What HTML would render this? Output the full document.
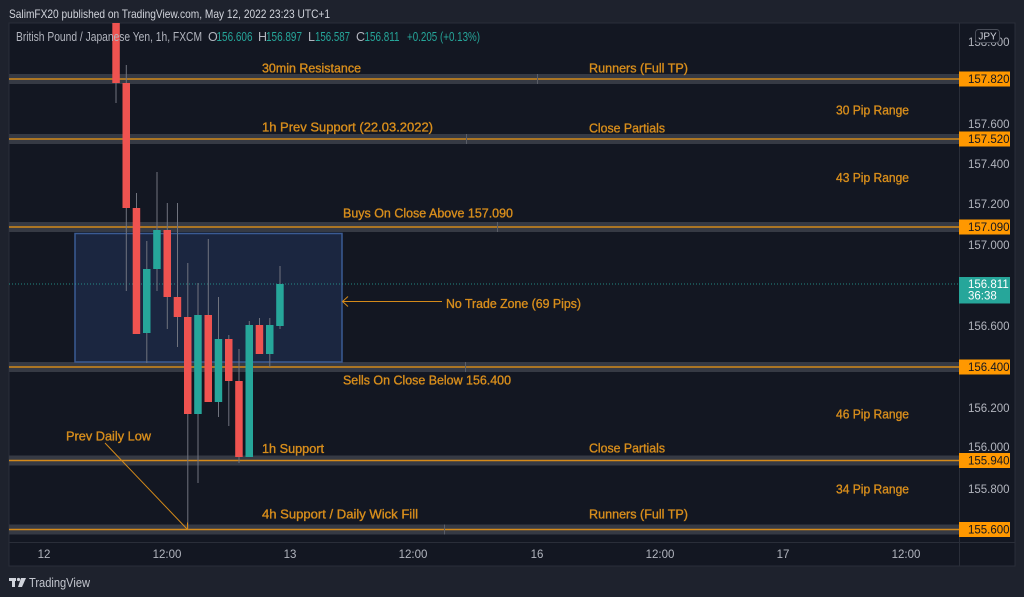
<!DOCTYPE html>
<html><head><meta charset="utf-8"><style>
html,body{margin:0;padding:0;background:#1e222d;width:1024px;height:597px;overflow:hidden}
svg{display:block}
text{font-family:"Liberation Sans",sans-serif}
</style></head><body>
<svg width="1024" height="597" viewBox="0 0 1024 597" xmlns="http://www.w3.org/2000/svg">
<rect x="0" y="0" width="1024" height="597" fill="#1e222d"/>
<!-- header -->
<text x="9" y="18" font-size="12" fill="#d1d4dc" textLength="321" lengthAdjust="spacingAndGlyphs">SalimFX20 published on TradingView.com, May 12, 2022 23:23 UTC+1</text>
<!-- chart panel -->
<rect x="9" y="23" width="1006" height="543" fill="#131722" stroke="#2a2e39" stroke-width="1"/>
<line x1="959.5" y1="23" x2="959.5" y2="566" stroke="#2a2e39"/>
<line x1="9" y1="542.5" x2="1015" y2="542.5" stroke="#2a2e39"/>

<!-- level bands -->
<g>
<rect x="9" y="74" width="950" height="10" fill="#363a44"/><line x1="9" y1="79" x2="959" y2="79" stroke="#d48a1a" stroke-width="1.5"/>
<rect x="9" y="134" width="950" height="10" fill="#363a44"/><line x1="9" y1="139" x2="959" y2="139" stroke="#d48a1a" stroke-width="1.5"/>
<rect x="9" y="222" width="950" height="10" fill="#363a44"/><line x1="9" y1="227" x2="959" y2="227" stroke="#d48a1a" stroke-width="1.5"/>
<rect x="9" y="362" width="950" height="10" fill="#363a44"/><line x1="9" y1="367" x2="959" y2="367" stroke="#d48a1a" stroke-width="1.5"/>
<rect x="9" y="455.5" width="950" height="10" fill="#363a44"/><line x1="9" y1="460.5" x2="959" y2="460.5" stroke="#d48a1a" stroke-width="1.5"/>
<rect x="9" y="524.5" width="950" height="10" fill="#363a44"/><line x1="9" y1="529.5" x2="959" y2="529.5" stroke="#d48a1a" stroke-width="1.5"/>
<g stroke="#5a5d66" stroke-width="1">
<line x1="537.5" y1="74" x2="537.5" y2="84"/>
<line x1="466.5" y1="134" x2="466.5" y2="144"/>
<line x1="497.5" y1="222" x2="497.5" y2="232"/>
<line x1="465.5" y1="362" x2="465.5" y2="372"/>
<line x1="444.5" y1="524.5" x2="444.5" y2="534.5"/>
</g>
</g>

<!-- no trade zone box -->
<rect x="75" y="233.5" width="267" height="128.5" fill="#1b2640" stroke="#3b5b94" stroke-width="1.5"/>

<!-- current price dotted line -->
<line x1="9" y1="284" x2="959" y2="284" stroke="#26a69a" stroke-width="1" stroke-dasharray="1,2" opacity="0.8"/>

<!-- candles -->
<g stroke="#70737e" stroke-width="1">
<line x1="116" y1="23" x2="116" y2="103"/>
<line x1="126.3" y1="65" x2="126.3" y2="291"/>
<line x1="136.5" y1="193" x2="136.5" y2="334"/>
<line x1="146.8" y1="241" x2="146.8" y2="363"/>
<line x1="157" y1="172" x2="157" y2="291"/>
<line x1="167.3" y1="203" x2="167.3" y2="329"/>
<line x1="177.5" y1="203" x2="177.5" y2="347"/>
<line x1="187.8" y1="263" x2="187.8" y2="530"/>
<line x1="198" y1="283" x2="198" y2="483"/>
<line x1="208.3" y1="239" x2="208.3" y2="402"/>
<line x1="218.5" y1="297" x2="218.5" y2="417"/>
<line x1="228.8" y1="335" x2="228.8" y2="426"/>
<line x1="239" y1="349" x2="239" y2="463"/>
<line x1="249.3" y1="321" x2="249.3" y2="457"/>
<line x1="259.5" y1="318" x2="259.5" y2="354"/>
<line x1="269.8" y1="318" x2="269.8" y2="367"/>
<line x1="280" y1="266" x2="280" y2="329"/>
</g>
<g>
<rect x="112.3" y="23" width="7.5" height="60" fill="#ef5350"/>
<rect x="122.5" y="83" width="7.5" height="125" fill="#ef5350"/>
<rect x="132.7" y="208" width="7.5" height="126" fill="#ef5350"/>
<rect x="143" y="269" width="7.5" height="64" fill="#26a69a"/>
<rect x="153.2" y="230" width="7.5" height="39" fill="#26a69a"/>
<rect x="163.5" y="230" width="7.5" height="67" fill="#ef5350"/>
<rect x="173.7" y="297" width="7.5" height="20" fill="#ef5350"/>
<rect x="184" y="317" width="7.5" height="97" fill="#ef5350"/>
<rect x="194.2" y="315" width="7.5" height="99" fill="#26a69a"/>
<rect x="204.5" y="315" width="7.5" height="87" fill="#ef5350"/>
<rect x="214.7" y="339" width="7.5" height="63" fill="#26a69a"/>
<rect x="225" y="339" width="7.5" height="42" fill="#ef5350"/>
<rect x="235.2" y="381" width="7.5" height="76" fill="#ef5350"/>
<rect x="245.5" y="325" width="7.5" height="132" fill="#26a69a"/>
<rect x="255.7" y="325" width="7.5" height="29" fill="#ef5350"/>
<rect x="266" y="325" width="7.5" height="29" fill="#26a69a"/>
<rect x="276.2" y="284" width="7.5" height="42" fill="#26a69a"/>
</g>

<!-- legend -->
<g font-size="12.5">
<text x="16" y="41" fill="#b2b5be" textLength="186" lengthAdjust="spacingAndGlyphs">British Pound / Japanese Yen, 1h, FXCM</text>
<text x="208" y="41" fill="#b2b5be">O</text>
<text x="216.5" y="41" fill="#26a69a" textLength="36" lengthAdjust="spacingAndGlyphs">156.606</text>
<text x="258" y="41" fill="#b2b5be">H</text>
<text x="266" y="41" fill="#26a69a" textLength="36" lengthAdjust="spacingAndGlyphs">156.897</text>
<text x="308" y="41" fill="#b2b5be">L</text>
<text x="315" y="41" fill="#26a69a" textLength="35" lengthAdjust="spacingAndGlyphs">156.587</text>
<text x="356" y="41" fill="#b2b5be">C</text>
<text x="364.5" y="41" fill="#26a69a" textLength="35" lengthAdjust="spacingAndGlyphs">156.811</text>
<text x="407" y="41" fill="#26a69a" textLength="73" lengthAdjust="spacingAndGlyphs">+0.205 (+0.13%)</text>
</g>

<!-- annotations -->
<g font-size="13" fill="#d88e1c" stroke="#d88e1c" stroke-width="0.35">
<text x="262" y="72.7" textLength="99" lengthAdjust="spacingAndGlyphs">30min Resistance</text>
<text x="589" y="72.7" textLength="99" lengthAdjust="spacingAndGlyphs">Runners (Full TP)</text>
<text x="836" y="114.7" textLength="73" lengthAdjust="spacingAndGlyphs">30 Pip Range</text>
<text x="262" y="131.7" textLength="171" lengthAdjust="spacingAndGlyphs">1h Prev Support (22.03.2022)</text>
<text x="589" y="132.7" textLength="76" lengthAdjust="spacingAndGlyphs">Close Partials</text>
<text x="836" y="182.2" textLength="73" lengthAdjust="spacingAndGlyphs">43 Pip Range</text>
<text x="343" y="217.4" textLength="170" lengthAdjust="spacingAndGlyphs">Buys On Close Above 157.090</text>
<text x="446" y="308" textLength="135" lengthAdjust="spacingAndGlyphs">No Trade Zone (69 Pips)</text>
<text x="343" y="384.7" textLength="168" lengthAdjust="spacingAndGlyphs">Sells On Close Below 156.400</text>
<text x="836" y="418.7" textLength="73" lengthAdjust="spacingAndGlyphs">46 Pip Range</text>
<text x="66" y="440.4" textLength="85" lengthAdjust="spacingAndGlyphs">Prev Daily Low</text>
<text x="262" y="453" textLength="62" lengthAdjust="spacingAndGlyphs">1h Support</text>
<text x="589" y="452.7" textLength="76" lengthAdjust="spacingAndGlyphs">Close Partials</text>
<text x="836" y="493.7" textLength="73" lengthAdjust="spacingAndGlyphs">34 Pip Range</text>
<text x="262" y="518.7" textLength="156" lengthAdjust="spacingAndGlyphs">4h Support / Daily Wick Fill</text>
<text x="589" y="518.7" textLength="99" lengthAdjust="spacingAndGlyphs">Runners (Full TP)</text>
</g>

<!-- arrows -->
<g stroke="#d48a1a" stroke-width="1" fill="none">
<line x1="342" y1="301.5" x2="442" y2="301.5"/>
<polyline points="348,296.5 342.5,301.5 348,306.5"/>
<line x1="105" y1="443" x2="187.5" y2="529.5"/>
<polyline points="180.5,529.5 187.5,529.5 187.5,522.5"/>
</g>

<!-- price axis labels -->
<g font-size="11.5" fill="#b2b5be">
<text x="968" y="46">158.000</text>
<text x="968" y="128">157.600</text>
<text x="968" y="168">157.400</text>
<text x="968" y="208">157.200</text>
<text x="968" y="249">157.000</text>
<text x="968" y="330">156.600</text>
<text x="968" y="412">156.200</text>
<text x="968" y="451">156.000</text>
<text x="968" y="493">155.800</text>
</g>
<!-- JPY badge -->
<rect x="975.5" y="29.5" width="24" height="13" rx="3" fill="#131722" stroke="#4a4e59"/>
<text x="987.5" y="39.5" font-size="10" fill="#d1d4dc" text-anchor="middle">JPY</text>

<!-- orange price tags -->
<g font-size="11.5" fill="#131722">
<rect x="959" y="71.5" width="51" height="15" fill="#ff9800"/><text x="968" y="83">157.820</text>
<rect x="959" y="131.5" width="51" height="15" fill="#ff9800"/><text x="968" y="143">157.520</text>
<rect x="959" y="219.5" width="51" height="15" fill="#ff9800"/><text x="968" y="231">157.090</text>
<rect x="959" y="359.5" width="51" height="15" fill="#ff9800"/><text x="968" y="371">156.400</text>
<rect x="959" y="453" width="51" height="15" fill="#ff9800"/><text x="968" y="464.5">155.940</text>
<rect x="959" y="522" width="51" height="15" fill="#ff9800"/><text x="968" y="533.5">155.600</text>
</g>
<!-- current price tag -->
<rect x="959" y="277" width="51" height="26.5" fill="#26a69a"/>
<text x="968" y="288" font-size="11.5" fill="#ffffff">156.811</text>
<text x="968" y="299.5" font-size="11.5" fill="#ffffff">36:38</text>

<!-- time axis -->
<g font-size="11.5" fill="#b2b5be" text-anchor="middle">
<text x="44" y="558">12</text>
<text x="167" y="558">12:00</text>
<text x="290" y="558">13</text>
<text x="413" y="558">12:00</text>
<text x="537" y="558">16</text>
<text x="660" y="558">12:00</text>
<text x="783" y="558">17</text>
<text x="906" y="558">12:00</text>
</g>

<!-- TradingView logo -->
<g fill="#d1d4dc">
<rect x="9" y="578" width="7" height="3"/>
<rect x="12" y="578" width="3" height="9"/>
<circle cx="18.5" cy="579.5" r="1.6"/>
<polygon points="21,578 26,578 22,587 18,587"/>
</g>
<text x="29" y="587" font-size="12.5" fill="#c3c6ce" textLength="61" lengthAdjust="spacingAndGlyphs">TradingView</text>
</svg>
</body></html>
